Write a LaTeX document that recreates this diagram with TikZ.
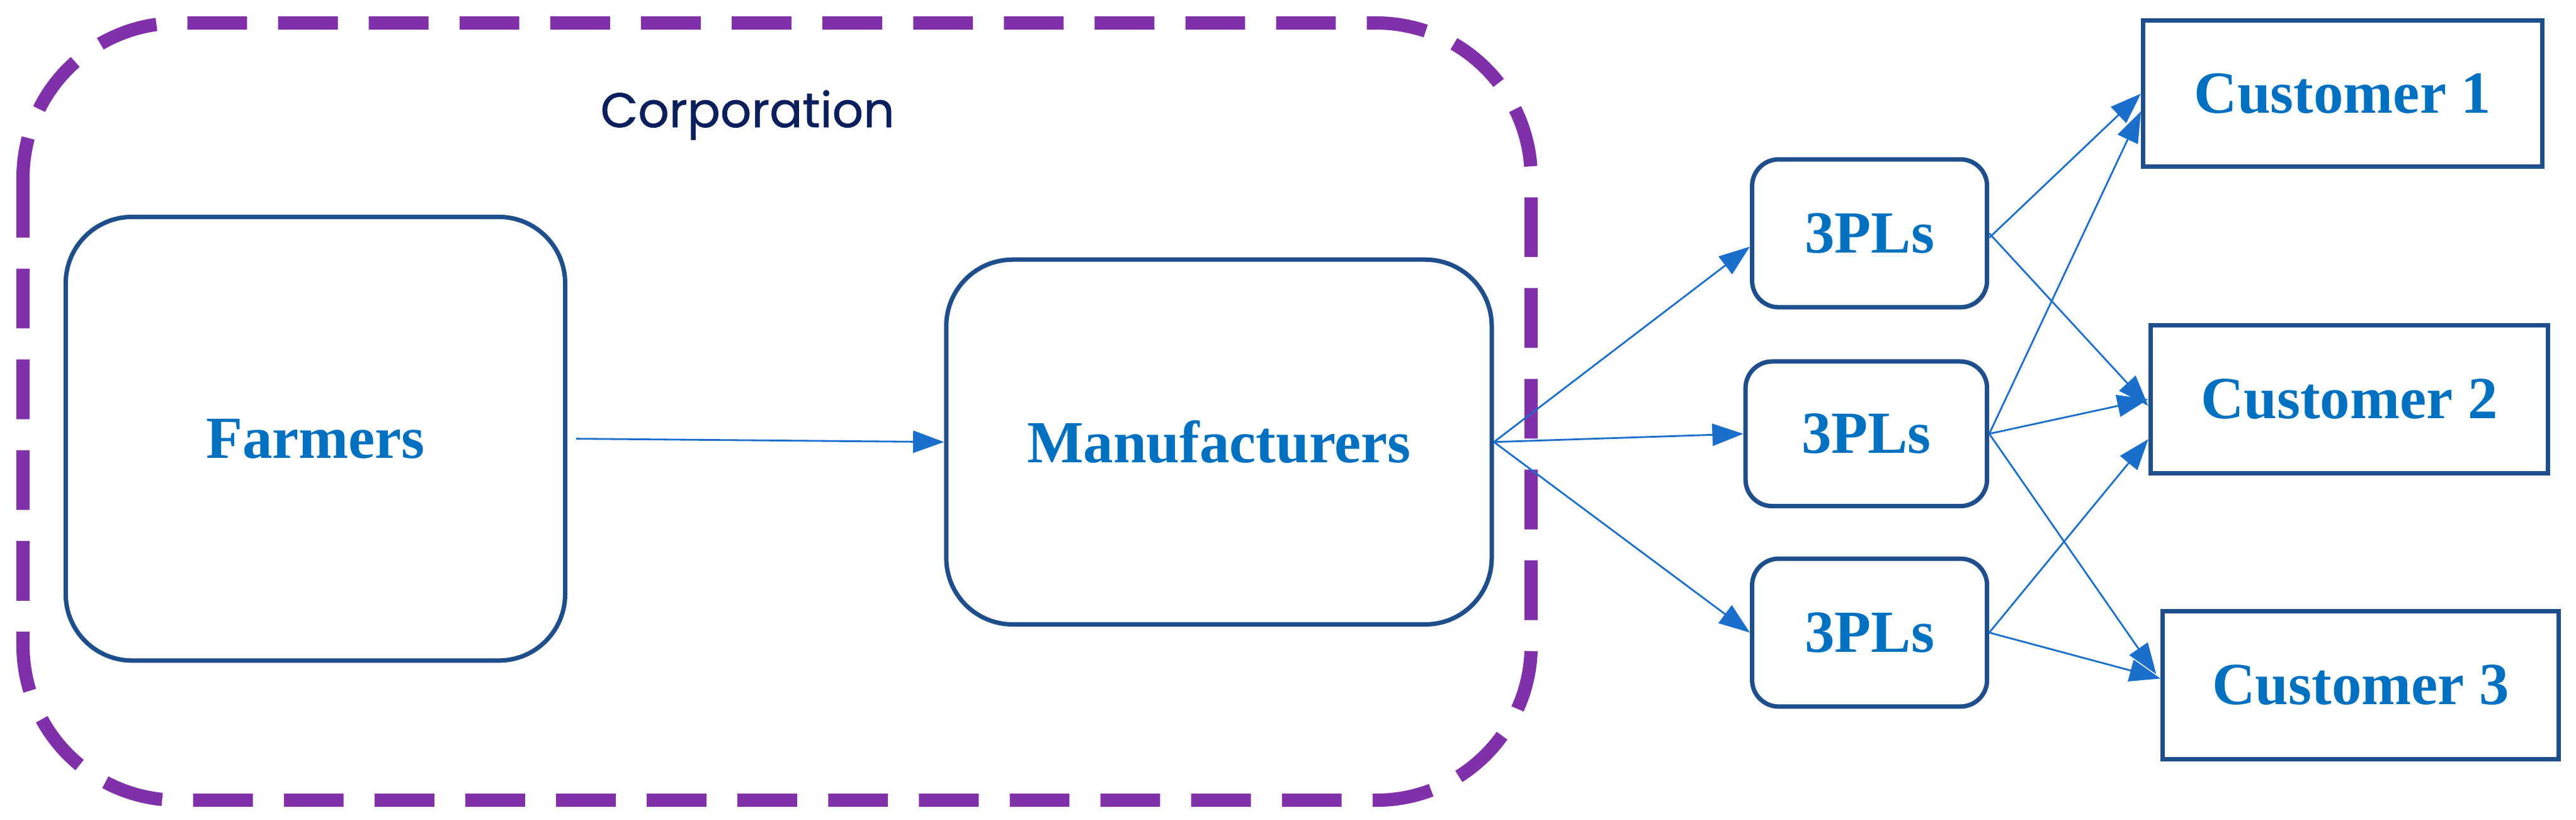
\documentclass[tikz,border=0pt]{standalone}
\usepackage{fontspec}
\setmainfont{Liberation Serif}
\newfontfamily\corpfont{Poppins}[FakeBold=0.8]
\usetikzlibrary{arrows.meta}
\definecolor{boxline}{HTML}{1F4E8C}
\definecolor{txt}{HTML}{0070C0}
\definecolor{arr}{HTML}{1A6FCC}
\definecolor{purp}{HTML}{8030A8}
\definecolor{navy}{HTML}{0B1F5C}
\begin{document}
\begin{tikzpicture}[x=0.02609cm,y=-0.02609cm,
  rbox/.style={draw=boxline,line width=2pt,rounded corners=#1,inner sep=0pt,font=\fontsize{27}{30}\selectfont\bfseries,text=txt},
  sbox/.style={draw=boxline,line width=2pt,inner sep=0pt,font=\fontsize{27}{30}\selectfont\bfseries,text=txt},
  con/.style={draw=arr,line width=0.8pt,-{Triangle[length=14pt,width=10pt]}}]
\useasboundingbox (0,0) rectangle (1568,499);
\draw[purp,line width=6pt,dash pattern=on 27pt off 14pt,rounded corners=70] (14,14) rectangle (932,487);
\node[font=\corpfont\fontsize{22}{26}\selectfont,text=navy] (corp) at (455,70) {Corporation};
\node[rbox=30pt,minimum width=304*0.02609cm,minimum height=270*0.02609cm] (f) at (192,267) {Farmers};
\node[rbox=30pt,minimum width=332*0.02609cm,minimum height=222*0.02609cm] (m) at (742,269) {Manufacturers};
\node[rbox=12pt,minimum width=143*0.02609cm,minimum height=90*0.02609cm] (p1) at (1138,142) {3PLs};
\node[rbox=12pt,minimum width=147*0.02609cm,minimum height=88*0.02609cm] (p2) at (1136,264) {3PLs};
\node[rbox=12pt,minimum width=143*0.02609cm,minimum height=90*0.02609cm] (p3) at (1138,385) {3PLs};
\node[sbox,minimum width=243*0.02609cm,minimum height=89*0.02609cm] (c1) at (1426,57) {Customer 1};
\node[sbox,minimum width=242*0.02609cm,minimum height=90*0.02609cm] (c2) at (1430,243) {Customer 2};
\node[sbox,minimum width=241*0.02609cm,minimum height=90*0.02609cm] (c3) at (1437,417) {Customer 3};
\draw[con] ([xshift=4pt]f.east) -- (m.west);
\draw[con] (m.east) -- ([yshift=-6pt]p1.west);
\draw[con] (m.east) -- (p2.west);
\draw[con] (m.east) -- (p3.west);
\draw[con] ([yshift=-2pt]p1.east) -- (c1.west);
\draw[con] (p1.east) -- ([yshift=-3pt]c2.west);
\draw[con] (p2.east) -- ([yshift=-8pt]c1.west);
\draw[con] (p2.east) -- (c2.west);
\draw[con] (p2.east) -- ([yshift=5pt,xshift=-2pt]c3.west);
\draw[con] (p3.east) -- ([yshift=-18pt]c2.west);
\draw[con] (p3.east) -- ([yshift=3pt]c3.west);
\end{tikzpicture}
\end{document}
